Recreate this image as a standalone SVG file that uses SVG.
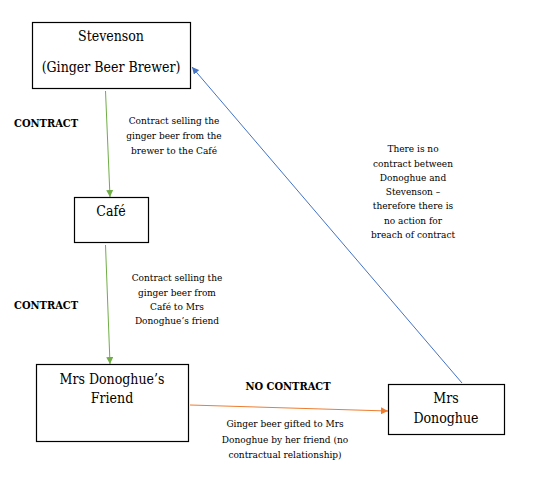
<svg xmlns="http://www.w3.org/2000/svg" width="541" height="478" viewBox="0 0 541 478">
<style>
.box{fill:#fff;stroke:#000;stroke-width:1.2}
text{font-family:'DejaVu Serif Condensed','DejaVu Serif',serif;fill:#000}
.nt{font-size:14px;text-anchor:middle}
.st{font-size:10px;text-anchor:middle}
.bt{font-size:11px;font-weight:bold}
</style>
<defs>
<marker id="ag" viewBox="0 0 10 10" refX="10" refY="5" markerWidth="7" markerHeight="7" markerUnits="userSpaceOnUse" orient="auto"><path d="M0,0L10,5L0,10z" fill="#70ad47"/></marker>
<marker id="ao" viewBox="0 0 10 10" refX="10" refY="5" markerWidth="7" markerHeight="7" markerUnits="userSpaceOnUse" orient="auto"><path d="M0,0L10,5L0,10z" fill="#ed7d31"/></marker>
<marker id="ab" viewBox="0 0 10 10" refX="10" refY="5" markerWidth="7" markerHeight="7" markerUnits="userSpaceOnUse" orient="auto"><path d="M0,0L10,5L0,10z" fill="#4472c4"/></marker>
</defs>
<rect width="541" height="478" fill="#fff"/>
<g id="connectors">
<line x1="105.5" y1="91" x2="110" y2="197" stroke="#70ad47" stroke-width="1" marker-end="url(#ag)"/>
<line x1="105.5" y1="245" x2="110" y2="364" stroke="#70ad47" stroke-width="1" marker-end="url(#ag)"/>
<line x1="190" y1="405" x2="388" y2="411" stroke="#ed7d31" stroke-width="1" marker-end="url(#ao)"/>
<line x1="462" y1="383" x2="192" y2="67" stroke="#4472c4" stroke-width="1" marker-end="url(#ab)"/>
</g>
<g id="labels">
<text class="bt" x="14" y="127">CONTRACT</text>
<text class="st"><tspan x="174" y="124">Contract selling the</tspan><tspan x="174" y="139">ginger beer from the</tspan><tspan x="174" y="154">brewer to the Café</tspan></text>
<text class="bt" x="14" y="309">CONTRACT</text>
<text class="st"><tspan x="177" y="281">Contract selling the</tspan><tspan x="177" y="296">ginger beer from</tspan><tspan x="177" y="310">Café to Mrs</tspan><tspan x="177" y="324">Donoghue’s friend</tspan></text>
<text class="bt" x="288" y="390" text-anchor="middle">NO CONTRACT</text>
<text class="st"><tspan x="285" y="427">Ginger beer gifted to Mrs</tspan><tspan x="285" y="443">Donoghue by her friend (no</tspan><tspan x="285" y="458">contractual relationship)</tspan></text>
<text class="st"><tspan x="413" y="152">There is no</tspan><tspan x="413" y="167">contract between</tspan><tspan x="413" y="181">Donoghue and</tspan><tspan x="413" y="195">Stevenson –</tspan><tspan x="413" y="209">therefore there is</tspan><tspan x="413" y="224">no action for</tspan><tspan x="413" y="238">breach of contract</tspan></text>
</g>
<g id="stevenson">
<rect class="box" x="32.5" y="22.5" width="158" height="66"/>
<text class="nt" x="111" y="41">Stevenson</text>
<text class="nt" x="111" y="72">(Ginger Beer Brewer)</text>
</g>
<g id="cafe">
<rect class="box" x="74.5" y="197.5" width="74" height="45"/>
<text class="nt" x="111" y="216">Café</text>
</g>
<g id="friend">
<rect class="box" x="36.5" y="364.5" width="152" height="77"/>
<text class="nt" x="112" y="384">Mrs Donoghue’s</text>
<text class="nt" x="112" y="403">Friend</text>
</g>
<g id="donoghue">
<rect class="box" x="388.5" y="384.5" width="116" height="50"/>
<text class="nt" x="446" y="403">Mrs</text>
<text class="nt" x="446" y="423">Donoghue</text>
</g>
</svg>
